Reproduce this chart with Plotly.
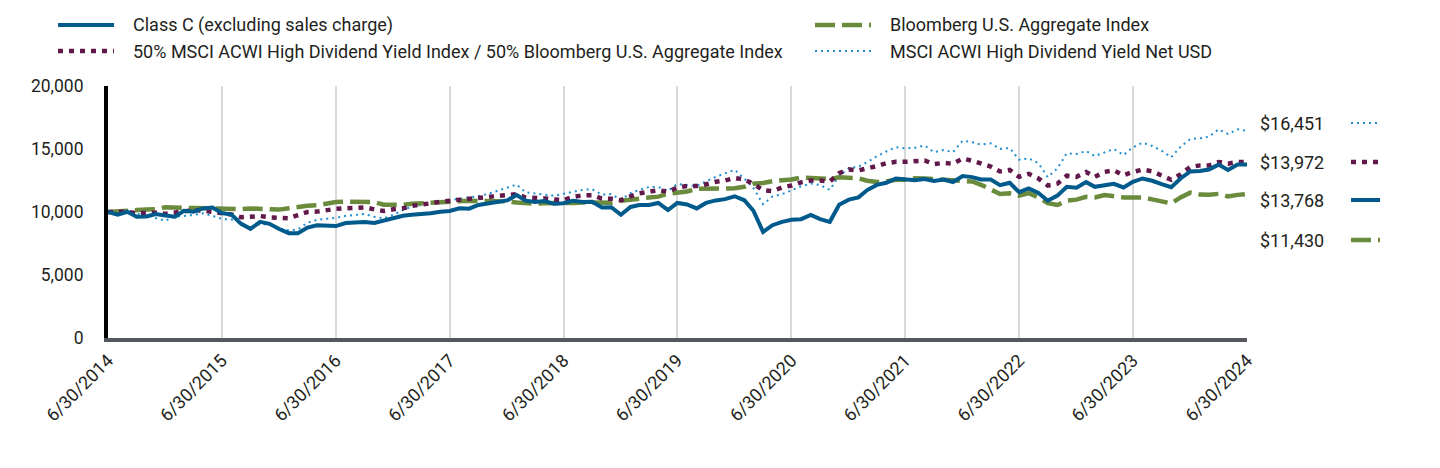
import pandas as pd
import plotly.graph_objects as go

# ---------------- data (monthly, 6/30/2014 .. 6/30/2024) ----------------
dates = pd.date_range("2014-06-30", "2024-06-30", freq="ME")

class_c = [
    10000, 9790, 10020, 9620, 9640, 9830, 9720, 9620, 10100, 10020, 10280, 10350,
    9920, 9790, 9060, 8660, 9220, 9060, 8650, 8320, 8320, 8760, 8950, 8950,
    8880, 9120, 9150, 9200, 9130, 9320, 9540, 9700, 9790, 9840, 9900, 10020,
    10080, 10290, 10260, 10560, 10680, 10780, 10920, 11350, 10900, 10800, 10870, 10650,
    10700, 10900, 10800, 10820, 10360, 10380, 9780, 10400, 10550, 10550, 10720, 10150,
    10720, 10600, 10280, 10720, 10920, 11020, 11250, 10930, 10100, 8420, 8950, 9220,
    9380, 9430, 9760, 9430, 9220, 10580, 10980, 11160, 11740, 12150, 12320, 12660,
    12610, 12530, 12610, 12460, 12580, 12380, 12850, 12770, 12580, 12580, 12130, 12320,
    11570, 11870, 11520, 10900, 11300, 12000, 11920, 12370, 12000, 12130, 12240, 11950,
    12400, 12660, 12480, 12210, 11970, 12660, 13220, 13250, 13370, 13760, 13340, 13770,
    13768,
]

blend = [
    10000, 10000, 10020, 9900, 9950, 9950, 9850, 9950, 10030, 10150, 10110, 10030,
    9900, 9800, 9580, 9620, 9680, 9580, 9500, 9500, 9760, 10000, 10030, 10150,
    10250, 10290, 10370, 10370, 10210, 10080, 10210, 10290, 10480, 10560, 10690, 10820,
    10900, 10980, 11080, 11140, 11200, 11260, 11420, 11420, 11150, 11130, 11080, 11000,
    10950, 11200, 11330, 11340, 11070, 11050, 10940, 11250, 11480, 11600, 11740, 11600,
    11950, 12060, 12060, 12200, 12400, 12500, 12700, 12580, 12230, 11740, 11650, 11950,
    12100, 12350, 12500, 12500, 12420, 13080, 13380, 13300, 13450, 13650, 13870, 13980,
    13980, 14060, 14090, 13800, 13900, 13820, 14250, 14060, 13880, 13610, 13220, 13340,
    12790, 13030, 12660, 12100, 12250, 12880, 12790, 13180, 12790, 13180, 13310, 12910,
    13180, 13360, 13230, 12910, 12560, 12990, 13570, 13700, 13700, 13970, 13840, 13970,
    13972,
]

bbg_agg = [
    10000, 10080, 10100, 10150, 10200, 10230, 10380, 10400, 10330, 10320, 10300, 10280,
    10220, 10200, 10230, 10280, 10270, 10250, 10190, 10300, 10420, 10500, 10530, 10650,
    10800, 10820, 10820, 10800, 10780, 10580, 10540, 10560, 10650, 10700, 10720, 10800,
    10820, 10850, 10900, 10880, 10880, 10820, 10840, 10750, 10680, 10660, 10700, 10680,
    10700, 10720, 10760, 10740, 10680, 10740, 10900, 10950, 11050, 11150, 11220, 11450,
    11550, 11620, 11850, 11880, 11860, 11870, 11880, 12000, 12250, 12300, 12450, 12500,
    12580, 12740, 12700, 12650, 12630, 12750, 12740, 12680, 12480, 12380, 12420, 12560,
    12560, 12680, 12660, 12600, 12620, 12560, 12500, 12420, 12160, 11780, 11430, 11480,
    11300, 11500, 11160, 10700, 10560, 10900, 10980, 11200, 11160, 11340, 11230, 11160,
    11150, 11150, 11000, 10840, 10680, 11160, 11530, 11380, 11360, 11440, 11230, 11360,
    11430,
]

msci_hdy = [
    10000, 10000, 10050, 9880, 9790, 9520, 9310, 9620, 9680, 9760, 9890, 9700,
    9450, 9400, 9150, 8700, 9060, 8990, 8690, 8540, 8620, 9150, 9380, 9440,
    9540, 9690, 9760, 9840, 9620, 9500, 9760, 10160, 10420, 10560, 10740, 10820,
    10950, 11040, 11140, 11250, 11440, 11680, 11980, 12180, 11560, 11480, 11400, 11280,
    11450, 11620, 11760, 11800, 11380, 11420, 10980, 11500, 11760, 11980, 11980, 11680,
    12220, 12120, 12060, 12430, 12790, 13070, 13350, 12650, 11900, 10620, 11230, 11420,
    11700, 12040, 12260, 12140, 11760, 12900, 13470, 13600, 13950, 14430, 14800, 15140,
    15050, 15100, 15280, 14750, 14920, 14750, 15660, 15540, 15340, 15450, 15010, 15080,
    14150, 14260, 13870, 12760, 13470, 14660, 14600, 14840, 14440, 14710, 15000, 14520,
    15130, 15500, 15240, 14870, 14340, 15180, 15790, 15850, 15980, 16560, 16190, 16560,
    16451,
]

tick_dates = pd.date_range("2014-06-30", "2024-06-30", freq="12ME")
tick_labels = [f"6/30/{d.year}" for d in tick_dates]
y_ticks = [0, 5000, 10000, 15000, 20000]

names = [
    "Class C (excluding sales charge)",
    "Bloomberg U.S. Aggregate Index",
    "50% MSCI ACWI High Dividend Yield Index / 50% Bloomberg U.S. Aggregate Index",
    "MSCI ACWI High Dividend Yield Net USD",
]
end_labels = ["$16,451", "$13,972", "$13,768", "$11,430"]

# ---------------- styles ----------------
C_BLUE = "#005a8c"
C_MAROON = "#62184a"
C_GREEN = "#6a8a3c"
C_LBLUE = "#1f8fd0"
FONT = "Roboto"
TXT = "#231f20"

sty = {
    "c": dict(color=C_BLUE, width=4, dash="solid"),
    "agg": dict(color=C_GREEN, width=4.5, dash="20px,7px"),
    "blend": dict(color=C_MAROON, width=4.5, dash="5px,6px"),
    "msci": dict(color=C_LBLUE, width=2, dash="2px,4px"),
}

fig = go.Figure()
fig.add_trace(go.Scatter(x=dates, y=msci_hdy, mode="lines", line=sty["msci"], name=names[3], showlegend=False))
fig.add_trace(go.Scatter(x=dates, y=bbg_agg, mode="lines", line=sty["agg"], name=names[1], showlegend=False))
fig.add_trace(go.Scatter(x=dates, y=blend, mode="lines", line=sty["blend"], name=names[2], showlegend=False))
fig.add_trace(go.Scatter(x=dates, y=class_c, mode="lines", line=sty["c"], name=names[0], showlegend=False))

# page offset of the figure (browser body margin)
OFF = 8
# plot area geometry in page pixels
PL, PR, PT, PB = 108, 1247, 86, 338
W, H = 1440, 468
L, R, T, B = PL - OFF, PR - OFF, PT - OFF, PB - OFF
pw, ph = PR - PL, PB - PT
def px(x): return (x - PL) / pw
def py(y): return (PB - y) / ph

shapes = []
annotations = []

# custom legend
legend_items = [
    (names[0], "c", 58, 25),
    (names[2], "blend", 58, 51),
    (names[1], "agg", 815, 25),
    (names[3], "msci", 815, 51),
]
for text, key, x0, y0 in legend_items:
    shapes.append(dict(type="line", xref="paper", yref="paper",
                       x0=px(x0), x1=px(x0 + 56), y0=py(y0), y1=py(y0),
                       line=sty[key]))
    annotations.append(dict(text=text, xref="paper", yref="paper",
                            x=px(x0 + 73), y=py(y0), xanchor="left", yanchor="middle",
                            showarrow=False, font=dict(family=FONT, size=18, color=TXT)))

# end-value labels on the right
end_items = [(end_labels[0], "msci", 123), (end_labels[1], "blend", 162),
             (end_labels[2], "c", 200), (end_labels[3], "agg", 240)]
for text, key, y0 in end_items:
    annotations.append(dict(text=text, xref="paper", yref="paper",
                            x=px(1258), y=py(y0), xanchor="left", yanchor="middle",
                            showarrow=False, font=dict(family=FONT, size=18, color=TXT)))
    shapes.append(dict(type="line", xref="paper", yref="paper",
                       x0=px(1351), x1=px(1380), y0=py(y0), y1=py(y0),
                       line=sty[key]))

fig.update_layout(
    width=W, height=H,
    margin=dict(l=L, r=W - R, t=T, b=H - B, autoexpand=False),
    paper_bgcolor="white", plot_bgcolor="white",
    showlegend=False,
    font=dict(family=FONT, color=TXT),
    shapes=shapes, annotations=annotations,
    xaxis=dict(
        range=[dates[0], dates[-1]],
        tickvals=list(tick_dates), ticktext=tick_labels,
        tickangle=-45, tickfont=dict(family=FONT, size=18, color=TXT),
        showgrid=True, gridcolor="#d9d9d9", gridwidth=2,
        showline=True, linecolor="#54575c", linewidth=4,
        ticks="outside", ticklen=1, tickcolor="rgba(0,0,0,0)",
        zeroline=False, fixedrange=True,
    ),
    yaxis=dict(
        range=[0, 20000], tickvals=y_ticks, tickformat=",",
        tickfont=dict(family=FONT, size=17.5, color=TXT),
        showgrid=False, zeroline=False,
        showline=True, linecolor="black", linewidth=4,
        ticks="outside", ticklen=17, tickcolor="rgba(0,0,0,0)",
        fixedrange=True,
    ),
)

fig.write_html("out.html")
